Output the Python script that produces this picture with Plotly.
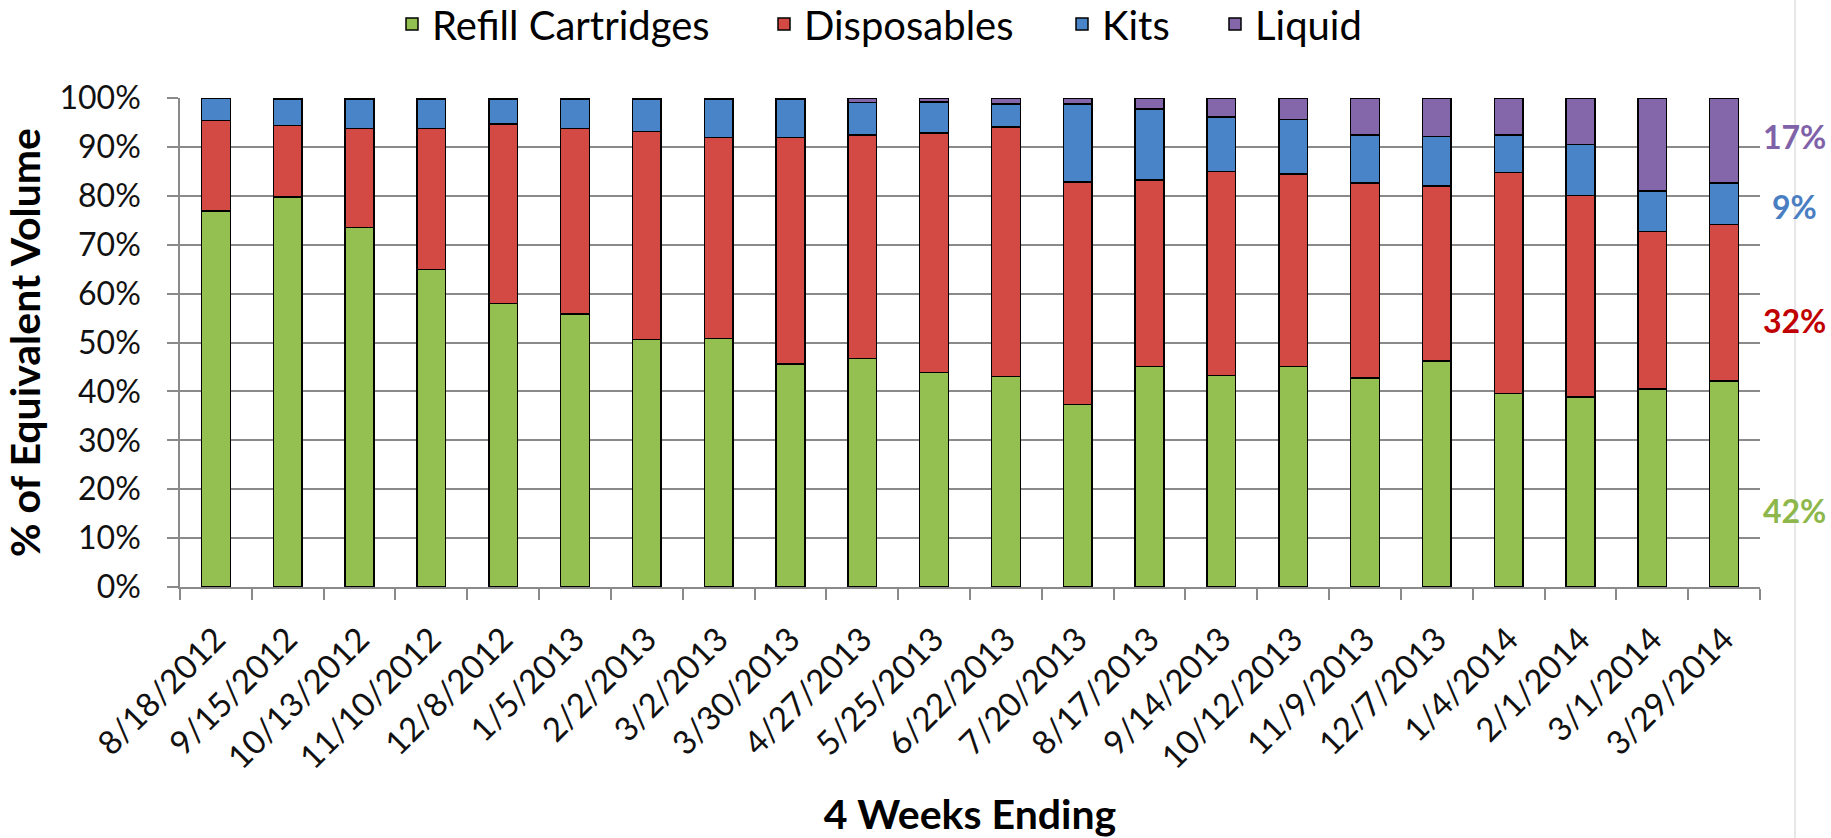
import plotly.graph_objects as go

periods = ["8/18/2012", "9/15/2012", "10/13/2012", "11/10/2012", "12/8/2012",
           "1/5/2013", "2/2/2013", "3/2/2013", "3/30/2013", "4/27/2013",
           "5/25/2013", "6/22/2013", "7/20/2013", "8/17/2013", "9/14/2013",
           "10/12/2013", "11/9/2013", "12/7/2013", "1/4/2014", "2/1/2014",
           "3/1/2014", "3/29/2014"]

refill_cartridges = [76.9, 79.8, 73.5, 64.9, 58.0, 55.8, 50.6, 50.8, 45.6, 46.7, 43.9,
                     43.0, 37.3, 45.1, 43.3, 45.1, 42.7, 46.2, 39.6, 38.9, 40.5, 42.1]
disposables = [18.5, 14.6, 20.3, 28.9, 36.7, 38.0, 42.5, 41.1, 46.3, 45.7, 48.9,
               51.1, 45.5, 38.1, 41.7, 39.4, 39.9, 35.8, 45.2, 41.2, 32.2, 32.0]
kits = [4.6, 5.3, 5.9, 5.9, 5.0, 5.9, 6.6, 7.8, 7.8, 6.7, 6.4,
        4.7, 16.0, 14.6, 11.1, 11.1, 9.8, 10.1, 7.6, 10.4, 8.3, 8.5]
liquid = [0.0, 0.3, 0.3, 0.3, 0.3, 0.3, 0.3, 0.3, 0.3, 0.9, 0.8,
          1.2, 1.2, 2.2, 3.9, 4.4, 7.6, 7.9, 7.6, 9.5, 19.0, 17.4]

series_names = ["Refill Cartridges", "Disposables", "Kits", "Liquid"]
end_labels = ["42%", "32%", "9%", "17%"]
y_tick_values = [0, 10, 20, 30, 40, 50, 60, 70, 80, 90, 100]
y_tick_labels = ["0%", "10%", "20%", "30%", "40%", "50%", "60%", "70%", "80%", "90%", "100%"]

# ---- styling / layout constants ----
W, H = 1831, 838
ML, MR, MT, MB = 180, 71, 98, 251
PW, PH = W - ML - MR, H - MT - MB
FONT = "Lato"
fill_colors = ["#93C051", "#D24A43", "#4A84C8", "#8466AA"]
label_colors = ["#8DB74B", "#C00000", "#4A7EC2", "#7F62A8"]
label_y = [15.6, 54.6, 77.8, 92.1]
legend_text_px = [437, 809, 1107, 1260]
grid_col = "#8a8a8a"


def px_to_paper_x(px):
    return (px - ML) / PW


def px_to_paper_y(py):
    return 1 - (py - MT) / PH


fig = go.Figure()
legend_ids = ["legend", "legend2", "legend3", "legend4"]
for name, vals, col, lid in zip(series_names,
                                [refill_cartridges, disposables, kits, liquid],
                                fill_colors, legend_ids):
    fig.add_trace(go.Bar(
        x=periods, y=vals, name=name, legend=lid, showlegend=True,
        marker=dict(color=col, line=dict(color="#000000", width=1.5)),
    ))

legend_layouts = {}
for lid, tx in zip(legend_ids, legend_text_px):
    legend_layouts[lid] = dict(
        x=px_to_paper_x(tx - 45), y=px_to_paper_y(24),
        xanchor="left", yanchor="middle", orientation="h",
        font=dict(family=FONT, size=40, color="#000000"),
        bgcolor="rgba(0,0,0,0)", borderwidth=0,
    )

annotations = []
for txt, col, yv in zip(end_labels, label_colors, label_y):
    annotations.append(dict(
        text=txt, x=px_to_paper_x(1795), xref="paper", y=yv, yref="y",
        xanchor="center", yanchor="middle", showarrow=False,
        font=dict(family=FONT, size=32, color=col, weight="bold"),
    ))

fig.update_layout(
    width=W, height=H, showlegend=True,
    margin=dict(l=ML, r=MR, t=MT, b=MB, pad=0, autoexpand=False),
    paper_bgcolor="white", plot_bgcolor="white",
    barmode="stack", bargap=0.6,
    annotations=annotations,
    shapes=[dict(type="line", xref="paper", yref="paper",
                 x0=px_to_paper_x(1795), x1=px_to_paper_x(1795),
                 y0=px_to_paper_y(H), y1=px_to_paper_y(0),
                 line=dict(color="#d0d0d0", width=1), layer="below")],
    **legend_layouts,
)

fig.update_yaxes(
    range=[0, 100], tickmode="array", tickvals=y_tick_values, ticktext=y_tick_labels,
    showgrid=True, gridcolor=grid_col, gridwidth=1.5,
    showline=True, linecolor=grid_col, linewidth=1.5,
    ticks="outside", ticklen=11, tickcolor=grid_col, tickwidth=1.5,
    ticklabelstandoff=20,
    tickfont=dict(family=FONT, size=32, color="#111111"),
    title=dict(text="% of Equivalent Volume", standoff=12,
               font=dict(family=FONT, size=41, color="#000000", weight="bold")),
    automargin=False, zeroline=False,
)
fig.update_xaxes(
    type="category", tickson="boundaries",
    showline=True, linecolor=grid_col, linewidth=1.5,
    ticks="outside", ticklen=11, tickcolor=grid_col, tickwidth=1.5,
    tickangle=-45, ticklabelstandoff=18,
    tickfont=dict(family=FONT, size=33, color="#111111"),
    title=dict(text="4 Weeks Ending", standoff=32,
               font=dict(family=FONT, size=41, color="#000000", weight="bold")),
    automargin=False,
)

fig.write_html("out.html")
